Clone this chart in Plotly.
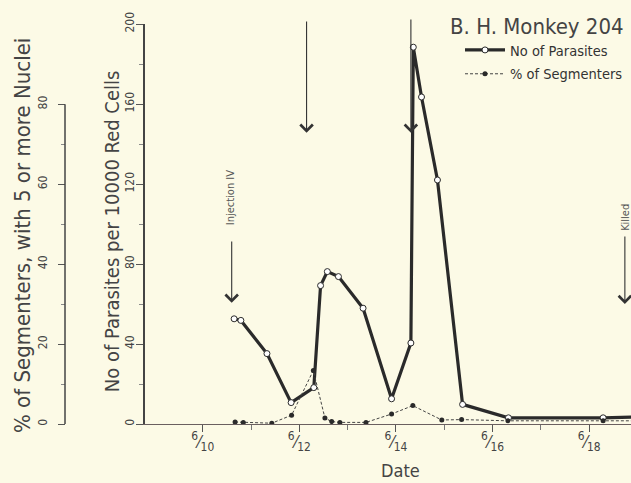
import plotly.graph_objects as go

# ---- data ----
par_day = [10.65, 10.79, 11.33, 11.83, 12.30, 12.44, 12.58, 12.81, 13.32, 13.91,
           14.31, 14.36, 14.53, 14.86, 15.38, 16.33, 18.29, 19.10]
par_val = [52.6, 51.8, 35.2, 10.7, 18.2, 69.2, 76.2, 73.7, 57.9, 12.6,
           40.5, 188.4, 163.5, 122.0, 9.8, 3.1, 3.1, 3.6]

seg_day = [10.67, 10.84, 11.43, 11.84, 12.29, 12.53, 12.67, 12.84, 13.38, 13.91,
           14.35, 14.95, 15.36, 16.32, 18.29, 19.10]
seg_val = [0.5, 0.4, 0.2, 2.2, 13.4, 1.5, 0.6, 0.4, 0.4, 2.5,
           4.6, 1.0, 1.1, 0.8, 0.8, 0.8]

date_ticks = [10, 12, 14, 16, 18]
date_labels = ["<sup>6</sup>⁄<sub>10</sub>", "<sup>6</sup>⁄<sub>12</sub>", "<sup>6</sup>⁄<sub>14</sub>",
               "<sup>6</sup>⁄<sub>16</sub>", "<sup>6</sup>⁄<sub>18</sub>"]
date_minor = [11, 13, 15, 17]
par_ticks = [0, 40, 80, 120, 160, 200]
seg_ticks = [0, 20, 40, 60, 80]
seg_minor = [10, 30, 50, 70]

BG = "#fcfae6"
INK = "#2a2a2a"
GREY = "#555555"
NARROW = "DejaVu Sans Condensed, Liberation Sans Narrow, sans-serif"

fig = go.Figure()
fig.add_trace(go.Scatter(
    x=par_day, y=par_val, name="No of Parasites", mode="lines+markers",
    line=dict(color=INK, width=3.2),
    marker=dict(symbol="circle", size=6, color="white", line=dict(color=INK, width=1)),
    yaxis="y", legendgroup="a"))
fig.add_trace(go.Scatter(
    x=seg_day, y=seg_val, name="% of Segmenters", mode="lines+markers",
    line=dict(color="#444444", width=1, dash="3px,2px"),
    marker=dict(symbol="circle", size=5, color=INK),
    yaxis="y2", legendgroup="b"))

x0 = 145 / 631
fig.update_layout(
    width=631, height=483,
    margin=dict(l=0, r=0, t=24, b=58.5, autoexpand=False),
    paper_bgcolor=BG, plot_bgcolor=BG,
    font=dict(family=NARROW, color=GREY, size=13),
    showlegend=True,
    legend=dict(x=460 / 631, y=0.975, xanchor="left", yanchor="top",
                bgcolor="rgba(0,0,0,0)", font=dict(size=14.5, color="#333"),
                tracegroupgap=2, itemwidth=40),
    xaxis=dict(domain=[x0, 1], range=[8.805, 18.867], showgrid=False, zeroline=False,
               automargin=False,
               showline=True, linecolor="#6a5f5f", linewidth=1.3,
               tickmode="array", tickvals=date_ticks, ticktext=date_labels,
               ticks="outside", ticklen=7, tickcolor="#555", tickwidth=1.2,
               ticklabelstandoff=-5,
               tickfont=dict(size=17, color="#444"),
               minor=dict(tickvals=date_minor, ticks="outside", ticklen=5, tickcolor="#777")),
    yaxis=dict(range=[0, 200], showgrid=False, zeroline=False, anchor="x", automargin=False,
               showline=True, linecolor="#444", linewidth=1.5,
               tickmode="array", tickvals=par_ticks, ticks="outside", ticklen=7,
               ticklabelstandoff=-3,
               tickcolor="#555", tickangle=-90, tickfont=dict(size=12, color="#444"),
               minor=dict(dtick=20, ticks="outside", ticklen=4, tickcolor="#888")),
    yaxis2=dict(range=[0, 100.1], overlaying="y", anchor="free", position=65 / 631,
                automargin=False,
                side="left", showgrid=False, zeroline=False,
                showline=True, linecolor="rgba(0,0,0,0)",
                tickmode="array", tickvals=seg_ticks, ticks="outside", ticklen=7,
                ticklabelstandoff=6,
                tickcolor="#555", tickangle=-90, tickfont=dict(size=12, color="#444"),
                minor=dict(tickvals=seg_minor, ticks="outside", ticklen=4, tickcolor="#888")),
)

# secondary axis line only over its labelled span
fig.add_shape(type="line", xref="paper", yref="y2", x0=65 / 631, x1=65 / 631,
              y0=seg_ticks[0], y1=seg_ticks[-1], line=dict(color="#444", width=1.5))

# axis titles
fig.add_annotation(text="% of Segmenters, with 5 or more Nuclei", xref="paper", yref="paper",
                   x=22 / 631, y=0.47, xanchor="center", yanchor="middle", textangle=-90,
                   showarrow=False, font=dict(size=22, color="#444", family=NARROW))
fig.add_annotation(text="No of Parasites per 10000 Red Cells", xref="paper", yref="paper",
                   x=112 / 631, y=0.482, xanchor="center", yanchor="middle", textangle=-90,
                   showarrow=False, font=dict(size=20, color="#444", family=NARROW))
fig.add_annotation(text="Date", xref="paper", yref="paper", x=400 / 631, y=-0.115,
                   xanchor="center", yanchor="middle",
                   showarrow=False, font=dict(size=18, color="#444", family=NARROW))

# title
fig.add_annotation(text="B. H. Monkey 204", xref="paper", yref="paper", x=448 / 631, y=0.995,
                   xanchor="left", yanchor="middle", showarrow=False,
                   font=dict(size=22, color="#444", family=NARROW))

# arrows
arrow_style = dict(showarrow=True, arrowhead=4, arrowsize=2.2, arrowwidth=1.1,
                   arrowcolor="#333", axref="x", ayref="y", text="")
fig.add_annotation(x=12.15, y=145.6, ax=12.15, ay=202, **arrow_style)
fig.add_annotation(x=14.31, y=145.6, ax=14.31, ay=203, **arrow_style)
fig.add_annotation(x=10.6, y=60.6, ax=10.6, ay=92, **arrow_style)
fig.add_annotation(x=18.74, y=60.0, ax=18.74, ay=94.5, **arrow_style)

fig.add_annotation(text="Injection IV", x=10.57, y=113, textangle=-90, showarrow=False,
                   font=dict(size=11, color="#555", family=NARROW))
fig.add_annotation(text="Killed", x=18.74, y=103.5, textangle=-90, showarrow=False,
                   font=dict(size=11, color="#555", family=NARROW))

fig.write_html("out.html", config={"displayModeBar": False},
               post_script="document.body.style.margin='0px';")
